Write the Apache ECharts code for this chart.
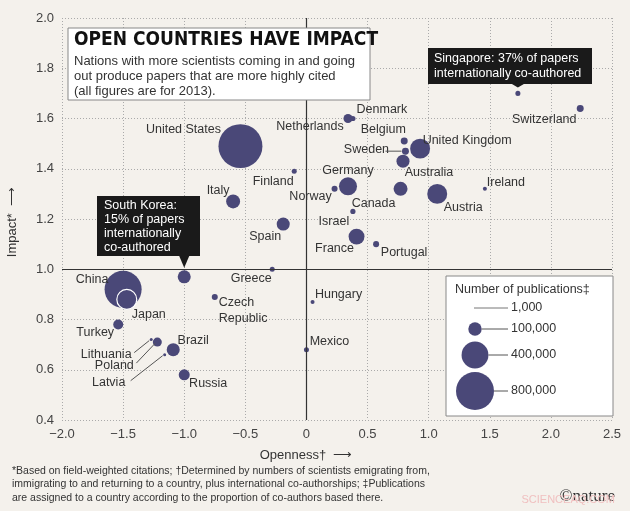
<!DOCTYPE html>
<html><head><meta charset="utf-8">
<script src="https://cdn.jsdelivr.net/npm/echarts@6/dist/echarts.min.js"></script>
<style>html,body{margin:0;background:#f4f1ec}#c{width:630px;height:511px}</style>
</head><body><div id="c"></div>
<script>
const countries = ["United States","China","Japan","South Korea","Italy","Spain","Finland","Greece","Czech\nRepublic","Turkey","Lithuania","Poland","Latvia","Brazil","Russia","Mexico","Hungary","Netherlands","Denmark","Germany","Norway","Israel","France","Portugal","Belgium","Sweden","United Kingdom","Australia","Canada","Austria","Ireland","Switzerland","Singapore"];
const openness = [-0.54,-1.5,-1.47,-1.0,-0.6,-0.19,-0.1,-0.28,-0.75,-1.54,-1.27,-1.22,-1.16,-1.09,-1.0,0.0,0.05,0.34,0.38,0.34,0.23,0.38,0.41,0.57,0.8,0.81,0.93,0.79,0.77,1.07,1.46,2.24,1.73];
const impact = [1.49,0.92,0.88,0.97,1.27,1.18,1.39,1.0,0.89,0.78,0.72,0.71,0.66,0.68,0.58,0.68,0.87,1.6,1.6,1.33,1.32,1.23,1.13,1.1,1.51,1.47,1.48,1.43,1.32,1.3,1.32,1.64,1.7];
const publications = [1070000,760000,220000,94000,108000,94000,14000,14000,20000,55000,2000,45000,2000,94000,67000,14000,9000,45000,15000,180000,20000,15000,140000,20000,27000,27000,220000,94000,108000,220000,9000,27000,14000];
const xTicks = [-2.0,-1.5,-1.0,-0.5,0,0.5,1.0,1.5,2.0,2.5];
const yTicks = [0.4,0.6,0.8,1.0,1.2,1.4,1.6,1.8,2.0];
const legendValues = [1000,100000,400000,800000];
const legendLabels = ["1,000","100,000","400,000","800,000"];
// label offsets (px) from point centre
const labelOffsets = [[-57,-17],[-31,-10],[22,15],null,[-15,-11],[-18,13],[-21,10],[-21,9],[29,14],[-23,8],[-45,15],[-43,23],[-56,28],[20,-9],[24,9],[23,-8],[26,-7],[-38,8],[29,-9],[0,-16],[-24,8],[-19,10],[-22,12],[28,8],[-21,-12],[-39,-2],[47,-8],[26,11],[-27,15],[26,14],[21,-6],[-36,11],null];
const col = '#4a4878';
const sz = p => Math.max(3, 38*Math.sqrt(p/800000));
const data = countries.map((n,i)=>{
  const o = labelOffsets[i];
  const d = {name:n, value:[openness[i],impact[i],publications[i]]};
  if (o) {
    let align='center'; let off=o.slice();
    if (n.startsWith('Czech')) {align='left'; off=[4,14];}
    d.label={show:true,position:'inside',offset:off,align:align,formatter:'{b}',color:'#333',fontSize:12.5,fontFamily:'Liberation Sans, Arial',lineHeight:16};
  }
  if (n==='Japan') d.itemStyle={borderColor:'#fff',borderWidth:1.2};
  return d;
});
const chart = echarts.init(document.getElementById('c'));
const axCommon = {splitLine:{show:true,lineStyle:{type:[1,2],color:'#aaa'}},axisLine:{show:false},axisTick:{show:false},axisLabel:{color:'#444',fontSize:13,fontFamily:'Liberation Sans, Arial'}};
chart.setOption({
  backgroundColor:'#f4f1ec', animation:false,
  grid:{left:62,right:18,top:18,bottom:91},
  xAxis:Object.assign({type:'value',min:-2,max:2.5,interval:0.5,axisLabel:Object.assign({},axCommon.axisLabel,{formatter:v=>{const t=xTicks.find(a=>Math.abs(a-v)<1e-9);return t===0?'0':(t<0?'\u2212':'')+Math.abs(t).toFixed(1);}})},axCommon.splitLine?{splitLine:axCommon.splitLine,axisLine:axCommon.axisLine,axisTick:axCommon.axisTick}:{}),
  yAxis:Object.assign({type:'value',min:0.4,max:2.0,interval:0.2,axisLabel:Object.assign({},axCommon.axisLabel,{formatter:v=>yTicks.find(a=>Math.abs(a-v)<1e-9).toFixed(1)})},{splitLine:axCommon.splitLine,axisLine:axCommon.axisLine,axisTick:axCommon.axisTick}),
  series:[{type:'scatter',data:data,symbolSize:v=>sz(v[2]),itemStyle:{color:col,opacity:1},z:3,
    markLine:{silent:true,symbol:'none',label:{show:false},lineStyle:{color:'#333',type:'solid',width:1.2},data:[{xAxis:0},{yAxis:1.0}]}}]
});
function px(x,y){return chart.convertToPixel({gridIndex:0},[x,y]);}
const g=[];
const F='Liberation Sans, Arial';
// title box
g.push({type:'rect',shape:{x:68,y:28,width:302,height:72},style:{fill:'#fff',stroke:'#888',lineWidth:1},z:10});
g.push({type:'text',x:74,y:31,style:{text:'OPEN COUNTRIES HAVE IMPACT',font:'bold 19px "DejaVu Sans Condensed", "Liberation Sans Narrow", sans-serif',fill:'#111'},z:11});
g.push({type:'text',x:74,y:54,style:{text:'Nations with more scientists coming in and going\nout produce papers that are more highly cited\n(all figures are for 2013).',font:'13px '+F,fill:'#333',lineHeight:15},z:11});
// Singapore box
const sg=px(openness[32],impact[32]);
g.push({type:'rect',shape:{x:428,y:48,width:164,height:36},style:{fill:'#1a1a1a'},z:10});
g.push({type:'polygon',shape:{points:[[sg[0]-6,84],[sg[0]+6,84],[sg[0],sg[1]-6]]},style:{fill:'#1a1a1a'},z:10});
g.push({type:'text',x:434,y:51,style:{text:'Singapore: 37% of papers\ninternationally co-authored',font:'12.5px '+F,fill:'#fff',lineHeight:15},z:11});
// South Korea box
const sk=px(openness[3],impact[3]);
g.push({type:'rect',shape:{x:97,y:196,width:103,height:60},style:{fill:'#1a1a1a'},z:10});
g.push({type:'polygon',shape:{points:[[sk[0]-5,256],[sk[0]+5,256],[sk[0],sk[1]-9]]},style:{fill:'#1a1a1a'},z:10});
g.push({type:'text',x:104,y:199,style:{text:'South Korea:\n15% of papers\ninternationally\nco-authored',font:'12.5px '+F,fill:'#fff',lineHeight:14},z:11});
// leader lines
function leader(i,len){const p=px(openness[i],impact[i]);const o=labelOffsets[i];
  const ex=p[0]+o[0]+len, ey=p[1]+o[1]-2;
  g.push({type:'line',shape:{x1:ex,y1:ey,x2:p[0]-2,y2:p[1]+1},style:{stroke:'#555',lineWidth:1},z:4});}
leader(10,28);leader(11,22);leader(12,22);
const sw=px(openness[25],impact[25]);
g.push({type:'line',shape:{x1:sw[0]-20,y1:sw[1],x2:sw[0]-4,y2:sw[1]},style:{stroke:'#555',lineWidth:1},z:4});
// size legend
g.push({type:'rect',shape:{x:446,y:276,width:167,height:140},style:{fill:'#fff',stroke:'#888',lineWidth:1},z:10});
g.push({type:'text',x:455,y:283,style:{text:'Number of publications\u2021',font:'12.5px '+F,fill:'#333'},z:11});
const ly=[308,329,355,391], cx=475;
legendValues.forEach((v,i)=>{
  const r=i===0?0:sz(v)/2;
  if(i===0) g.push({type:'line',shape:{x1:474,y1:ly[i],x2:508,y2:ly[i]},style:{stroke:'#777',lineWidth:1},z:11});
  else { g.push({type:'circle',shape:{cx:cx,cy:ly[i],r:r},style:{fill:col},z:11});
    g.push({type:'line',shape:{x1:cx+r,y1:ly[i],x2:508,y2:ly[i]},style:{stroke:'#555',lineWidth:1},z:11}); }
  g.push({type:'text',x:511,y:ly[i]-7,style:{text:legendLabels[i],font:'12.5px '+F,fill:'#333'},z:11});
});
// axis names
g.push({type:'text',x:306,y:449,style:{text:'Openness\u2020  \u27F6',font:'13px '+F,fill:'#333',align:'center'},z:11});
g.push({type:'text',x:12,y:222,rotation:Math.PI/2,style:{text:'Impact*  \u27F6',font:'13px '+F,fill:'#333',align:'center',verticalAlign:'middle'},origin:[0,0],z:11});
// footnote
g.push({type:'text',x:12,y:464,style:{text:'*Based on field-weighted citations; \u2020Determined by numbers of scientists emigrating from,\nimmigrating to and returning to a country, plus international co-authorships; \u2021Publications\nare assigned to a country according to the proportion of co-authors based there.',font:'10.5px '+F,fill:'#333',lineHeight:13.5},z:11});
g.push({type:'text',x:615,y:488,style:{text:'\u00A9nature',font:'17px "Liberation Serif", serif',fill:'#333',align:'right'},z:11});
g.push({type:'text',x:615,y:494,style:{text:'SCIENCEAQ.COM',font:'11px '+F,fill:'#f0c0c0',align:'right'},z:11});
chart.setOption({graphic:g});
</script></body></html>
